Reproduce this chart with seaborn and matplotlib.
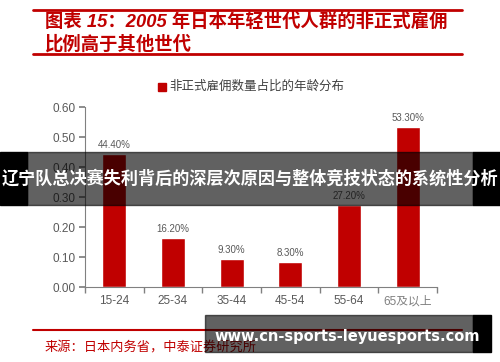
import matplotlib
matplotlib.use("Agg")
import matplotlib.pyplot as plt
import seaborn as sns
import pandas as pd
from matplotlib.patches import Rectangle
from matplotlib.lines import Line2D

categories = ["15-24", "25-34", "35-44", "45-54", "55-64", "65及以上"]
values = [0.444, 0.162, 0.093, 0.083, 0.272, 0.533]
labels = ["44.40%", "16.20%", "9.30%", "8.30%", "27.20%", "53.30%"]
yticks = [0.0, 0.1, 0.2, 0.3, 0.4, 0.5, 0.6]
legend_label = "非正式雇佣数量占比的年龄分布"
title_line1 = "图表 15：2005 年日本年轻世代人群的非正式雇佣"
title_line2 = "比例高于其他世代"
source_text = "来源：日本内务省，中泰证券研究所"
banner_text = "辽宁队总决赛失利背后的深层次原因与整体竞技状态的系统性分析"
watermark_text = "www.cn-sports-leyuesports.com"

sns.set_theme(style="white")
plt.rcParams["font.family"] = ["Liberation Sans", "Noto Sans CJK SC", "DejaVu Sans"]

RED = "#C00000"
GREY = "#595959"
W, H = 500, 362

fig = plt.figure(figsize=(5, 3.62), dpi=100)
fig.patch.set_facecolor("white")

def fx(x):
    return x / W

def fy(y):
    return 1 - y / H

ax = fig.add_axes([fx(85), fy(287), fx(437) - fx(85), fy(107) - fy(287)])
df = pd.DataFrame({"age": categories, "share": values})
sns.barplot(data=df, x="age", y="share", color=RED, saturation=1, width=0.41, ax=ax)
ax.set_xlim(-0.5, 5.5)
ax.set_ylim(0, 0.6)
ax.set_yticks(yticks)
ax.set_yticklabels([f"{t:.2f}" for t in yticks], fontsize=8.5, color=GREY)
ax.set_xlabel("")
ax.set_ylabel("")
ax.set_xticks(range(len(categories)))
ax.set_xticklabels(categories, fontsize=8.5, color=GREY)
ax.set_xticks([i - 0.5 for i in range(len(categories) + 1)], minor=True)
ax.tick_params(axis="x", which="major", length=0, pad=6)
ax.tick_params(axis="x", which="minor", length=4, color="#808080", direction="out", bottom=True)
ax.tick_params(axis="y", length=4, color="#808080", direction="out", left=True, pad=3)
for s in ["top", "right"]:
    ax.spines[s].set_visible(False)
for s in ["left", "bottom"]:
    ax.spines[s].set_color("#808080")
    ax.spines[s].set_linewidth(0.8)
for lbl in ax.get_xticklabels():
    if "及" in lbl.get_text():
        lbl.set_color("#808080")

for i, (v, t) in enumerate(zip(values, labels)):
    ax.annotate(t, (i, v), xytext=(0, 3), textcoords="offset points",
                ha="center", va="bottom", fontsize=7, color=GREY)

# legend
fig.patches.append(Rectangle((fx(158), fy(91)), fx(8), 8 / H, transform=fig.transFigure,
                             color=RED, zorder=5))
fig.text(fx(169), fy(87), legend_label, fontsize=9, color="#404040", va="center", ha="left")

# title block
for yy in (10, 54):
    fig.add_artist(Line2D([fx(33), fx(462)], [fy(yy), fy(yy)], color=RED, lw=2,
                          transform=fig.transFigure))
fig.text(fx(45), fy(22), title_line1, fontsize=13.2, color=RED, fontweight="bold",
         va="center", ha="left", style="italic")
fig.text(fx(45), fy(44), title_line2, fontsize=13.2, color=RED, fontweight="bold",
         va="center", ha="left", style="italic")

# source
fig.add_artist(Line2D([fx(33), fx(462)], [fy(330), fy(330)], color=RED, lw=1.5,
                      transform=fig.transFigure))
fig.text(fx(45), fy(348), source_text, fontsize=9.5, color=RED, va="center", ha="left")

# banner overlay
fig.patches.append(Rectangle((0, fy(205)), fx(27), 53 / H, transform=fig.transFigure,
                             color="black", zorder=10))
fig.patches.append(Rectangle((fx(473), fy(205)), fx(27), 53 / H, transform=fig.transFigure,
                             color="black", zorder=10))
fig.patches.append(Rectangle((fx(27), fy(205)), fx(446), 53 / H, transform=fig.transFigure,
                             color="black", alpha=0.62, zorder=10))
fig.text(0.5, fy(178), banner_text, fontsize=12.3, color="white", fontweight="bold",
         ha="center", va="center", zorder=11)

# watermark
fig.patches.append(Rectangle((fx(205), fy(352)), fx(268), 37 / H, transform=fig.transFigure,
                             color="black", alpha=0.62, zorder=10))
fig.patches.append(Rectangle((fx(473), fy(352)), fx(18), 37 / H, transform=fig.transFigure,
                             color="black", zorder=10))
fig.text(fx(347), fy(336), watermark_text, fontsize=10.5, color="white", fontweight="bold",
         ha="center", va="center", zorder=11, family="DejaVu Sans")

fig.savefig("out.png", dpi=100)
